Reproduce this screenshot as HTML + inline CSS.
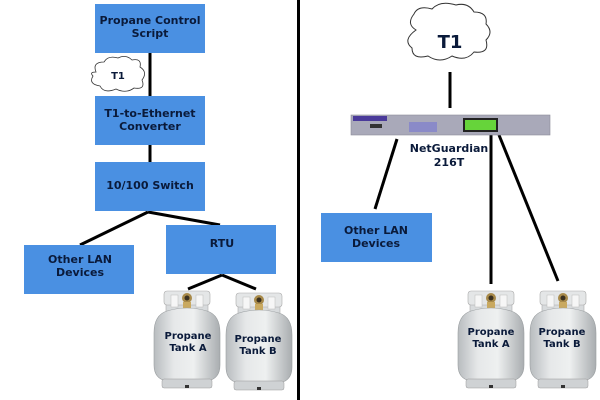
<!DOCTYPE html>
<html><head><meta charset="utf-8"><style>
html,body{margin:0;padding:0;background:#fff;}
svg{display:block;}
text{font-family:"DejaVu Sans","Liberation Sans",sans-serif;font-weight:bold;fill:#0a1a3a;text-anchor:middle;}
</style></head><body>
<svg width="600" height="400" viewBox="0 0 600 400" xmlns="http://www.w3.org/2000/svg">
<defs>
<linearGradient id="tg" x1="0" x2="1" y1="0" y2="0">
<stop offset="0" stop-color="#b8bcbf"/><stop offset="0.3" stop-color="#e6e8e9"/><stop offset="0.6" stop-color="#eef0f0"/><stop offset="1" stop-color="#a9adb0"/>
</linearGradient>
<g id="tank">
<rect x="13" y="16" width="42" height="18" fill="#d8dbdd" stroke="#aaa" stroke-width="0.6"/>
<rect x="11" y="6" width="46" height="14" rx="3" fill="#e4e6e7" stroke="#aaa" stroke-width="0.6"/>
<rect x="18" y="10" width="7" height="12" fill="#f6f6f6" stroke="#bbb" stroke-width="0.5"/>
<rect x="43" y="10" width="7" height="12" fill="#f6f6f6" stroke="#bbb" stroke-width="0.5"/>
<circle cx="34" cy="13" r="5" fill="#a88a4a"/>
<circle cx="34" cy="13" r="2.5" fill="#3a3020"/>
<rect x="30" y="17" width="8" height="8" fill="#c9a960"/>
<path d="M14 26 Q34 20 54 26 Q67 30 67 48 L67 80 Q67 94 54 96 L14 96 Q1 94 1 80 L1 48 Q1 30 14 26 Z" fill="url(#tg)" stroke="#9a9ea0" stroke-width="0.6"/>
<rect x="9" y="94" width="50" height="9" rx="2" fill="#cfd2d4" stroke="#999" stroke-width="0.5"/>
<rect x="32" y="100" width="4" height="3" fill="#333"/>
</g>
</defs>
<rect x="297" y="0" width="3" height="400" fill="#000"/>
<g stroke="#000" stroke-width="3" fill="none">
<line x1="150" y1="53" x2="150" y2="96"/>
<line x1="150" y1="145" x2="150" y2="162"/>
<line x1="148" y1="212" x2="80" y2="245"/>
<line x1="148" y1="212" x2="220" y2="225"/>
<line x1="222" y1="275" x2="188" y2="289"/>
<line x1="222" y1="275" x2="256" y2="289"/>
<line x1="450" y1="72" x2="450" y2="108"/>
<line x1="397" y1="139" x2="375" y2="209"/>
<line x1="491" y1="135" x2="491" y2="284"/>
<line x1="499" y1="135" x2="558" y2="281"/>
</g>
<g fill="#4a90e2">
<rect x="95" y="4" width="110" height="49"/>
<rect x="95" y="96" width="110" height="49"/>
<rect x="95" y="162" width="110" height="49"/>
<rect x="24" y="245" width="110" height="49"/>
<rect x="166" y="225" width="110" height="49"/>
<rect x="321" y="213" width="111" height="49"/>
</g>
<g font-size="11">
<text x="150" y="24">Propane Control</text><text x="150" y="37">Script</text>
<text x="150" y="117">T1-to-Ethernet</text><text x="150" y="130">Converter</text>
<text x="150" y="189">10/100 Switch</text>
<text x="80" y="263">Other LAN</text><text x="80" y="276">Devices</text>
<text x="222" y="247">RTU</text>
<text x="376" y="234">Other LAN</text><text x="376" y="247">Devices</text>
<text x="449" y="152">NetGuardian</text><text x="449" y="166">216T</text>
</g>
<path d="M96 72 Q92 62 104 62 Q108 55 118 58 Q126 54 132 60 Q142 58 140 67 Q148 72 142 80 Q146 90 134 88 Q126 94 116 89 Q104 94 100 86 Q88 84 93 76 Q89 72 96 72 Z" fill="#fff" stroke="#333" stroke-width="0.8"/>
<text x="118" y="79" font-size="10">T1</text>
<path d="M416 30 Q406 24 414 14 Q418 5 432 9 Q440 0 456 5 Q468 2 474 12 Q488 12 486 24 Q494 32 486 40 Q490 54 474 52 Q466 62 452 56 Q440 64 428 56 Q412 60 412 48 Q402 40 416 30 Z" fill="#fff" stroke="#333" stroke-width="1"/>
<text x="450" y="48" font-size="18">T1</text>
<rect x="351" y="115" width="199" height="20" fill="#a9a9b9" stroke="#8a8a98" stroke-width="0.6"/>
<rect x="353" y="116" width="34" height="5" fill="#4a3a9a"/>
<rect x="370" y="124" width="12" height="4" fill="#333"/>
<rect x="409" y="122" width="28" height="10" fill="#8a8ac8"/>
<rect x="463" y="118" width="35" height="14" fill="#222"/>
<rect x="465" y="120" width="31" height="10" fill="#66d43a"/>
<use href="#tank" x="153" y="285"/>
<use href="#tank" x="225" y="287"/>
<use href="#tank" x="457" y="285"/>
<use href="#tank" x="529" y="285"/>
<g font-size="10">
<text x="188" y="339">Propane</text><text x="188" y="351">Tank A</text>
<text x="258" y="342">Propane</text><text x="258" y="354">Tank B</text>
<text x="491" y="335">Propane</text><text x="491" y="347">Tank A</text>
<text x="562" y="335">Propane</text><text x="562" y="347">Tank B</text>
</g>
</svg>
</body></html>
